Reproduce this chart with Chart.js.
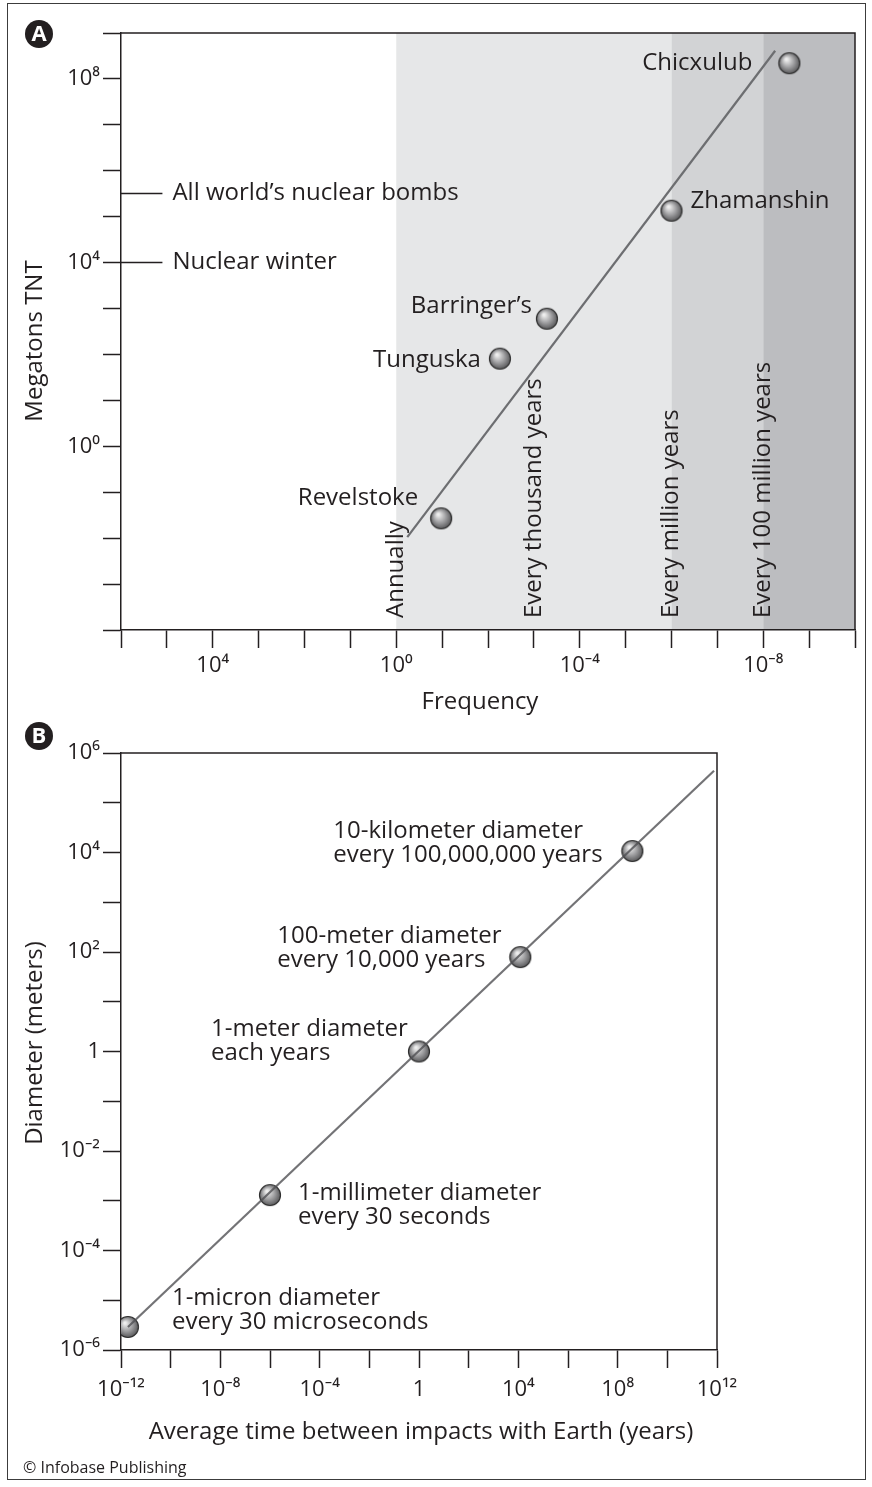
<!DOCTYPE html>
<html>
<head>
<meta charset="utf-8">
<script src="https://cdn.jsdelivr.net/npm/chart.js@4/dist/chart.umd.min.js"></script>
<style>
  html, body { margin: 0; padding: 0; background: #fff; }
  #page { position: relative; width: 872px; height: 1487px; overflow: hidden; }
  #frame { position: absolute; left: 7px; top: 3px; width: 859px; height: 1477px;
           border: 1.5px solid #3c3c3c; box-sizing: border-box; }
  canvas { position: absolute; left: 0; }
  #cA { top: 0; }
  #cB { top: 712px; }
</style>
</head>
<body>
<div id="page">
  <div id="frame"></div>
  <canvas id="cA" width="872" height="730"></canvas>
  <canvas id="cB" width="872" height="775"></canvas>
</div>
<script>
// ---------- Panel A: impact energy vs. how often it happens ----------
const craterNames = ['Revelstoke', 'Tunguska', 'Barringer\u2019s', 'Zhamanshin', 'Chicxulub'];
const craterFreq  = [0.105, 5.5e-3, 5.2e-4, 1.0e-6, 2.7e-9];   // events per year
const craterMt    = [0.027, 81, 600, 1.35e5, 2.2e8];           // megatons TNT

const trendAFreq = [0.575, 5.5e-9];
const trendAMt   = [0.0105, 4.1e8];

const benchNames = ['All world\u2019s nuclear bombs', 'Nuclear winter'];
const benchMt    = [3.2e5, 1e4];

const bandEdges  = [1, 1e-6, 1e-8, 1e-10];
const recurNames = ['Annually', 'Every thousand years', 'Every million years', 'Every 100 million years'];
const recurFreq  = [1, 1e-3, 1e-6, 1e-8];

const aXTickLabels  = ['10\u2074', '10\u2070', '10\u207B\u2074', '10\u207B\u2078'];
const aXTickLabelAt = [1e4, 1, 1e-4, 1e-8];
const aYTickLabels  = ['10\u2078', '10\u2074', '10\u2070'];
const aYTickLabelAt = [1e8, 1e4, 1];

// ---------- Panel B: impactor size vs. time between impacts ----------
const sizeNotes = [
  ['1-micron diameter', 'every 30 microseconds'],
  ['1-millimeter diameter', 'every 30 seconds'],
  ['1-meter diameter', 'each years'],
  ['100-meter diameter', 'every 10,000 years'],
  ['10-kilometer diameter', 'every 100,000,000 years']
];
const sizeYears    = [1.9e-12, 1e-6, 1, 1.2e4, 3.9e8];
const sizeDiameter = [2.9e-6, 1.3e-3, 1, 79, 1.07e4];

const trendBYears = [1.9e-12, 7.6e11];
const trendBDiam  = [2.9e-6, 4.4e5];

const bXTickLabels  = ['10\u207B\u00B9\u00B2', '10\u207B\u2078', '10\u207B\u2074', '1', '10\u2074', '10\u2078', '10\u00B9\u00B2'];
const bXTickLabelAt = [1e-12, 1e-8, 1e-4, 1, 1e4, 1e8, 1e12];
const bYTickLabels  = ['10\u2076', '10\u2074', '10\u00B2', '1', '10\u207B\u00B2', '10\u207B\u2074', '10\u207B\u2076'];
const bYTickLabelAt = [1e6, 1e4, 1e2, 1, 1e-2, 1e-4, 1e-6];

// ---------- shared look ----------
const INK = '#231f20';
const LINE = '#6d6e71';
const FONT = "'Open Sans', 'Noto Sans', sans-serif";
const TEXT_SIZE = 24;
const TICK_SIZE = 22;
const bandColors = ['#e6e7e8', '#d2d3d5', '#bcbdc0'];

Chart.defaults.font.family = FONT;
Chart.defaults.color = INK;

// shaded sphere used as the point marker
function makeBall() {
  const c = document.createElement('canvas');
  c.width = 24; c.height = 24;
  const g = c.getContext('2d');
  const grad = g.createRadialGradient(9, 8, 1, 12, 12, 12);
  grad.addColorStop(0, '#eeeeee');
  grad.addColorStop(0.45, '#a4a4a6');
  grad.addColorStop(1, '#48484a');
  g.beginPath();
  g.arc(12, 12, 10.5, 0, Math.PI * 2);
  g.fillStyle = grad;
  g.fill();
  g.lineWidth = 1.2;
  g.strokeStyle = '#2e2e2e';
  g.stroke();
  return c;
}
const ball = makeBall();

const decades = (lo, hi, step) => {
  const out = [];
  for (let e = lo; e <= hi; e += step) out.push(Math.pow(10, e));
  return out;
};
const sameDecade = (a, b) => Math.abs(Math.log10(a) - Math.log10(b)) < 1e-6;
const labelFor = (labels, at) => v => {
  const i = at.findIndex(t => sameDecade(t, v));
  return i >= 0 ? labels[i] : '';
};

function logAxis({min, max, ticks, labels, at, vertical, reverse, fit, pad}) {
  return {
    type: 'logarithmic',
    min, max, reverse: !!reverse,
    afterBuildTicks: s => { s.ticks = ticks.map(v => ({value: v})); },
    afterFit: s => {
      if (vertical) s.width = fit; else s.height = fit;
      s.paddingLeft = s.paddingRight = s.paddingTop = s.paddingBottom = 0;
    },
    grid: { drawOnChartArea: false, drawTicks: true, tickLength: 18, tickWidth: 1.5, tickColor: INK },
    border: { display: true, color: INK, width: 1.5 },
    ticks: {
      autoSkip: false, maxRotation: 0, minRotation: 0, padding: pad,
      color: INK, font: { size: TICK_SIZE, family: FONT },
      callback: labelFor(labels, at)
    }
  };
}

function frame(ctx, a) {
  ctx.save();
  ctx.strokeStyle = INK;
  ctx.lineWidth = 1.5;
  ctx.beginPath();
  ctx.moveTo(a.left, a.top);
  ctx.lineTo(a.right, a.top);
  ctx.lineTo(a.right, a.bottom);
  ctx.stroke();
  ctx.restore();
}

function badge(ctx, cx, cy, letter) {
  ctx.save();
  ctx.beginPath();
  ctx.arc(cx, cy, 14, 0, Math.PI * 2);
  ctx.fillStyle = INK;
  ctx.fill();
  ctx.fillStyle = '#fff';
  ctx.font = 'bold 22px ' + FONT;
  ctx.textAlign = 'center';
  ctx.textBaseline = 'middle';
  ctx.fillText(letter, cx, cy + 1);
  ctx.restore();
}

function text(ctx, str, x, y, align, size, rotate) {
  ctx.save();
  ctx.fillStyle = INK;
  ctx.font = (size || TEXT_SIZE) + 'px ' + FONT;
  ctx.textAlign = align || 'left';
  ctx.textBaseline = 'middle';
  ctx.translate(x, y);
  if (rotate) ctx.rotate(-Math.PI / 2);
  ctx.fillText(str, 0, 0);
  ctx.restore();
}

// label placement next to each marker (pixels from the marker centre)
const craterLabelPos = [
  { dx: -23, dy: -20, align: 'right' },
  { dx: -19, dy: 1,   align: 'right' },
  { dx: -15, dy: -13, align: 'right' },
  { dx: 19,  dy: -10, align: 'left' },
  { dx: -37, dy: 0,   align: 'right' }
];
const sizeLabelPos = [
  { dx: 44,   dy: -29 },
  { dx: 28,   dy: -2 },
  { dx: -208, dy: -22 },
  { dx: -243, dy: -21 },
  { dx: -299, dy: -20 }
];

// ---------- Panel A ----------
const panelA = {
  id: 'panelA',
  beforeDraw(chart) {
    const { ctx, chartArea: a, scales: { x } } = chart;
    for (let i = 0; i < bandEdges.length - 1; i++) {
      const x0 = x.getPixelForValue(bandEdges[i]);
      const x1 = x.getPixelForValue(bandEdges[i + 1]);
      ctx.fillStyle = bandColors[i];
      ctx.fillRect(x0, a.top, x1 - x0, a.bottom - a.top);
    }
    recurNames.forEach((name, i) => {
      const px = x.getPixelForValue(recurFreq[i]);
      text(ctx, name, px, a.bottom - 12, 'left', TEXT_SIZE, true);
    });
  },
  afterDraw(chart) {
    const { ctx, chartArea: a, scales: { x, y } } = chart;
    frame(ctx, a);
    craterNames.forEach((name, i) => {
      const p = craterLabelPos[i];
      text(ctx, name, x.getPixelForValue(craterFreq[i]) + p.dx,
           y.getPixelForValue(craterMt[i]) + p.dy, p.align);
    });
    benchNames.forEach((name, i) => {
      text(ctx, name, x.getPixelForValue(1.25e5) + 10, y.getPixelForValue(benchMt[i]), 'left');
    });
    text(ctx, 'Megatons TNT', 35, 341, 'center', TEXT_SIZE, true);
    text(ctx, 'Frequency', 480, 702, 'center');
    badge(ctx, 39, 34, 'A');
  }
};

new Chart(document.getElementById('cA'), {
  type: 'scatter',
  data: {
    datasets: [
      {
        data: craterFreq.map((f, i) => ({ x: f, y: craterMt[i] })),
        pointStyle: ball, pointRadius: 10, order: 0
      },
      {
        data: trendAFreq.map((f, i) => ({ x: f, y: trendAMt[i] })),
        showLine: true, borderColor: LINE, borderWidth: 2.2, pointRadius: 0, order: 1
      },
      ...benchMt.map(m => ({
        data: [{ x: 1e6, y: m }, { x: 1.25e5, y: m }],
        showLine: true, borderColor: INK, borderWidth: 1.5, pointRadius: 0, order: 2
      }))
    ]
  },
  options: {
    responsive: false, animation: false, devicePixelRatio: 1,
    layout: { padding: { left: 0, top: 33, right: 17, bottom: 0 } },
    plugins: { legend: { display: false }, tooltip: { enabled: false } },
    scales: {
      x: logAxis({ min: 1e-10, max: 1e6, ticks: decades(-10, 6, 1), labels: aXTickLabels,
                   at: aXTickLabelAt, reverse: true, fit: 100, pad: 5 }),
      y: logAxis({ min: 1e-4, max: 1e9, ticks: decades(-4, 9, 1), labels: aYTickLabels,
                   at: aYTickLabelAt, vertical: true, fit: 121, pad: 3 })
    }
  },
  plugins: [panelA]
});

// ---------- Panel B ----------
const panelB = {
  id: 'panelB',
  afterDraw(chart) {
    const { ctx, chartArea: a, scales: { x, y } } = chart;
    frame(ctx, a);
    sizeNotes.forEach((lines, i) => {
      const p = sizeLabelPos[i];
      const px = x.getPixelForValue(sizeYears[i]) + p.dx;
      const py = y.getPixelForValue(sizeDiameter[i]) + p.dy;
      lines.forEach((ln, k) => text(ctx, ln, px, py + k * 24, 'left'));
    });
    text(ctx, 'Diameter (meters)', 35, 1043 - 712, 'center', TEXT_SIZE, true);
    text(ctx, 'Average time between impacts with Earth (years)', 421, 1432 - 712, 'center');
    text(ctx, '\u00A9 Infobase Publishing', 23, 1468 - 712, 'left', 16);
    badge(ctx, 39, 736 - 712, 'B');
  }
};

new Chart(document.getElementById('cB'), {
  type: 'scatter',
  data: {
    datasets: [
      {
        data: sizeYears.map((t, i) => ({ x: t, y: sizeDiameter[i] })),
        pointStyle: ball, pointRadius: 10, order: 1
      },
      {
        data: trendBYears.map((t, i) => ({ x: t, y: trendBDiam[i] })),
        showLine: true, borderColor: 'rgba(80,80,84,0.8)', borderWidth: 2.2, pointRadius: 0, order: 0
      }
    ]
  },
  options: {
    responsive: false, animation: false, devicePixelRatio: 1,
    layout: { padding: { left: 0, top: 41, right: 155, bottom: 0 } },
    plugins: { legend: { display: false }, tooltip: { enabled: false } },
    scales: {
      x: logAxis({ min: 1e-12, max: 1e12, ticks: decades(-12, 12, 2), labels: bXTickLabels,
                   at: bXTickLabelAt, fit: 137, pad: 9 }),
      y: logAxis({ min: 1e-6, max: 1e6, ticks: decades(-6, 6, 1), labels: bYTickLabels,
                   at: bYTickLabelAt, vertical: true, fit: 121, pad: 3 })
    }
  },
  plugins: [panelB]
});
</script>
</body>
</html>
